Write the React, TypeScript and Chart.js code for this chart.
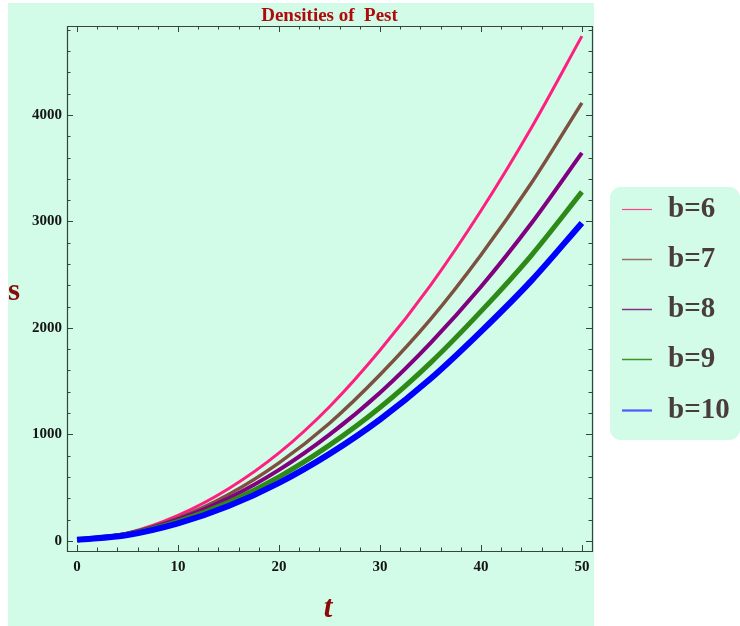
import React, { useEffect, useRef } from "react";
import { Chart, registerables } from "chart.js";

Chart.register(...registerables);

// ---- data ----
const tValues = [0, 5, 10, 15, 20, 25, 30, 35, 40, 45, 50];
const sB6 = [10, 75, 240, 490, 826, 1260, 1790, 2400, 3100, 3880, 4740];
const sB7 = [10, 69, 214, 435, 732, 1105, 1560, 2080, 2685, 3360, 4113];
const sB8 = [10, 68, 202, 401, 667, 998, 1392, 1858, 2386, 2982, 3643];
const sB9 = [10, 62, 182, 362, 601, 899, 1252, 1672, 2155, 2682, 3277];
const sB10 = [10, 55, 164, 327, 545, 817, 1140, 1522, 1965, 2444, 2986];
const seriesLabels = ["b=6", "b=7", "b=8", "b=9", "b=10"];
const xTickValues = [0, 10, 20, 30, 40, 50];
const yTickValues = [0, 1000, 2000, 3000, 4000];
const xMinorStep = 2;
const yMinorStep = 200;
const titleText = "Densities of  Pest";
const xAxisLabel = "t";
const yAxisLabel = "s";

const seriesValues = [sB6, sB7, sB8, sB9, sB10];
const seriesColors = ["#ff1f80", "#7d5040", "#800080", "#2d8a17", "#0000ff"];
const legendColors = ["#ff3f90", "#8f7468", "#86308a", "#3a9428", "#4a5cff"];
const seriesWidths = [3, 3.5, 4, 5, 6];
const legendWidths = [1.2, 1.5, 1.5, 1.5, 2.2];

const SERIF = '"Liberation Serif", "DejaVu Serif", serif';
const MINT = "#d2fbe8";
const FRAME = "#36443c";

const decorPlugin = {
  id: "decor",
  beforeDraw(chart: any) {
    const ctx = chart.ctx;
    ctx.save();
    ctx.fillStyle = "#ffffff";
    ctx.fillRect(0, 0, chart.width, chart.height);
    ctx.fillStyle = MINT;
    ctx.fillRect(8, 3, 586, 623);
    // legend box
    ctx.beginPath();
    (ctx as any).roundRect(610, 187, 130, 253, 11);
    ctx.fill();
    ctx.restore();
  },
  afterDraw(chart: any) {
    const ctx = chart.ctx;
    const { left, right, top, bottom } = chart.chartArea;
    const xs = chart.scales.x;
    const ys = chart.scales.y;
    ctx.save();
    ctx.strokeStyle = FRAME;
    ctx.lineWidth = 1.2;
    ctx.beginPath();
    ctx.rect(Math.round(left) + 0.5, Math.round(top) + 0.5, Math.round(right - left), Math.round(bottom - top));
    ctx.stroke();
    ctx.lineWidth = 1;
    // x ticks (bottom & top)
    for (let v = 0; v <= xs.max; v += xMinorStep) {
      const px = Math.round(xs.getPixelForValue(v)) + 0.5;
      const major = xTickValues.includes(v);
      const len = major ? 6 : 3.5;
      ctx.beginPath();
      ctx.moveTo(px, bottom);
      ctx.lineTo(px, bottom - len);
      ctx.moveTo(px, top);
      ctx.lineTo(px, top + len);
      ctx.stroke();
    }
    // y ticks (left & right)
    for (let v = 0; v <= ys.max; v += yMinorStep) {
      const py = Math.round(ys.getPixelForValue(v)) + 0.5;
      const major = yTickValues.includes(v);
      const len = major ? 6 : 3.5;
      ctx.beginPath();
      ctx.moveTo(left, py);
      ctx.lineTo(left + len, py);
      ctx.moveTo(right, py);
      ctx.lineTo(right - len, py);
      ctx.stroke();
    }
    // title
    ctx.fillStyle = "#b00a0a";
    ctx.font = `bold 19px ${SERIF}`;
    ctx.textAlign = "center";
    ctx.textBaseline = "alphabetic";
    ctx.fillText(titleText, (left + right) / 2, 21);
    // axis labels
    ctx.fillStyle = "#8a0a0a";
    ctx.font = `bold 31px ${SERIF}`;
    ctx.fillText(yAxisLabel, 14, 300);
    ctx.font = `italic bold 31px ${SERIF}`;
    ctx.fillText(xAxisLabel, 328, 617);
    // legend
    const rowY = [209, 259, 309, 359, 410];
    ctx.textAlign = "left";
    ctx.textBaseline = "middle";
    ctx.font = `bold 29px ${SERIF}`;
    seriesLabels.forEach((lab, i) => {
      ctx.strokeStyle = legendColors[i];
      ctx.lineWidth = legendWidths[i];
      ctx.beginPath();
      ctx.moveTo(622, rowY[i] + 0.5);
      ctx.lineTo(652, rowY[i] + 0.5);
      ctx.stroke();
      ctx.fillStyle = "#4a3c3c";
      ctx.fillText(lab, 668, rowY[i] + 1);
    });
    ctx.restore();
  },
};

export default function App() {
  const ref = useRef<HTMLCanvasElement | null>(null);
  useEffect(() => {
    if (!ref.current) return;
    const datasets = seriesValues.map((vals, i) => ({
      label: seriesLabels[i],
      data: tValues.map((t, j) => ({ x: t, y: vals[j] })),
      borderColor: seriesColors[i],
      backgroundColor: seriesColors[i],
      borderWidth: seriesWidths[i],
      pointRadius: 0,
      fill: false,
      cubicInterpolationMode: "monotone" as const,
      order: seriesLabels.length - 1 - i,
    }));
    const chart = new Chart(ref.current, {
      type: "line",
      data: { datasets },
      options: {
        animation: false,
        responsive: false,
        devicePixelRatio: 1,
        layout: { padding: { left: 0, top: 26, right: 148, bottom: 0 } },
        plugins: { legend: { display: false }, title: { display: false }, tooltip: { enabled: false } },
        scales: {
          x: {
            type: "linear",
            min: -1,
            max: 51,
            grid: { display: false, drawTicks: false },
            border: { display: false },
            afterBuildTicks: (s: any) => {
              s.ticks = xTickValues.map((v) => ({ value: v }));
            },
            afterFit: (s: any) => {
              s.height = 75;
            },
            ticks: {
              padding: 7,
              color: "#151515",
              font: { family: SERIF, size: 15, weight: "bold" },
              maxRotation: 0,
              callback: (v: any) => String(v),
            },
          },
          y: {
            type: "linear",
            min: -95,
            max: 4835,
            grid: { display: false, drawTicks: false },
            border: { display: false },
            afterBuildTicks: (s: any) => {
              s.ticks = yTickValues.map((v) => ({ value: v }));
            },
            afterFit: (s: any) => {
              s.width = 67;
            },
            ticks: {
              padding: 5,
              color: "#151515",
              font: { family: SERIF, size: 15, weight: "bold" },
              callback: (v: any) => String(v),
            },
          },
        },
      },
      plugins: [decorPlugin],
    });
    return () => chart.destroy();
  }, []);
  return (
    <div style={{ position: "fixed", left: 0, top: 0, width: 740, height: 626 }}>
      <canvas ref={ref} width={740} height={626} style={{ display: "block" }} />
    </div>
  );
}
